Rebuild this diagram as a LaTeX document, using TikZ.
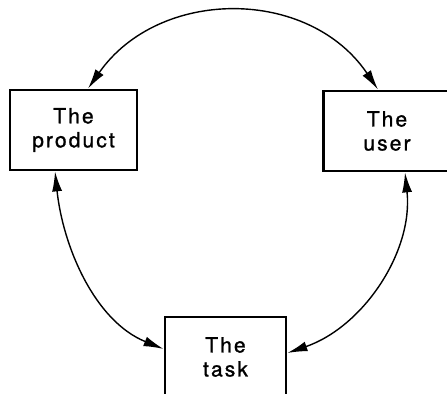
\documentclass[tikz,border=0pt]{standalone}
\usepackage{fontspec}
\setmainfont{TeX Gyre Heros}[LetterSpace=10,FakeBold=1.2]
\usetikzlibrary{arrows.meta}
\begin{document}
\begin{tikzpicture}[x=0.5pt,y=0.5pt,>={Latex[length=10pt,width=5pt]},
	box/.style={draw,line width=1.4pt,minimum height=40pt,align=center,font=\fontsize{10.5}{12}\selectfont},
	link/.style={<->,line width=0.7pt}]
	\useasboundingbox (0,0) rectangle (447,394);
	%	\draw[thin,color=gray!20](0,0)grid[step=50](447,394);
	\node[box,minimum width=63.5pt] (prod) at (73.5,264) {The\\product};
	\node[box,minimum width=63.5pt] (user) at (387,263) {The\\user};
	\node[box,minimum width=60.5pt] (task) at (225.5,37) {The\\task};
	\draw[link] ([xshift=7.25pt]prod.north) to[out=55,in=124,looseness=1.09] ([xshift=-4.5pt]user.north);
	\draw[link] ([xshift=-9.25pt]prod.south) to[out=-84,in=158,looseness=0.92] ([yshift=4pt]task.west);
	\draw[link] ([xshift=9pt]user.south) to[out=-84,in=19,looseness=0.95] ([yshift=2pt]task.east);
\end{tikzpicture}
\end{document}
